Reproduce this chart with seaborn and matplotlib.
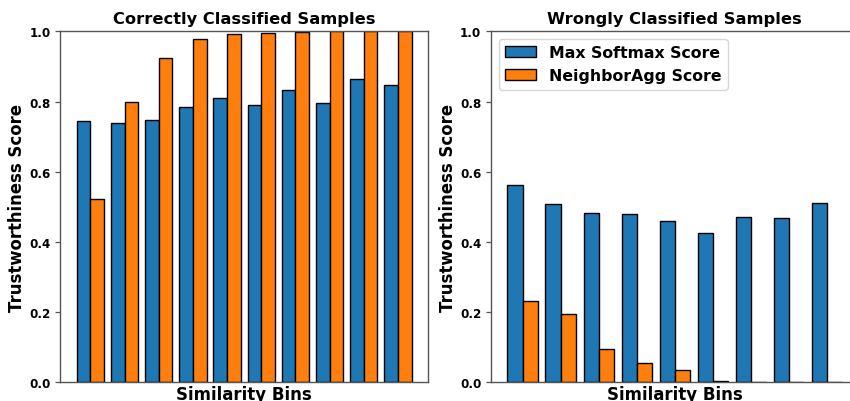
import numpy as np
import pandas as pd
import matplotlib
matplotlib.use("Agg")
import matplotlib.pyplot as plt
import seaborn as sns

# ---- data ----
series_names = ["Max Softmax Score", "NeighborAgg Score"]
correct_softmax = [0.744, 0.740, 0.746, 0.783, 0.810, 0.791, 0.834, 0.797, 0.865, 0.846]
correct_neighbor = [0.523, 0.799, 0.925, 0.979, 0.993, 0.995, 0.999, 1.000, 1.000, 1.000]
wrong_softmax = [0.563, 0.508, 0.482, 0.479, 0.460, 0.425, 0.472, 0.467, 0.512]
wrong_neighbor = [0.232, 0.194, 0.094, 0.054, 0.034, 0.004, 0.001, 0.0, 0.0]
titles = ["Correctly Classified Samples", "Wrongly Classified Samples"]
xlabel = "Similarity Bins"
ylabel = "Trustworthiness Score"
yticks = [0.0, 0.2, 0.4, 0.6, 0.8, 1.0]
colors = ["#1f77b4", "#ff7f0e"]


def long_df(a, b):
    n = len(a)
    return pd.DataFrame({
        "bin": list(range(n)) * 2,
        "score": list(a) + list(b),
        "series": [series_names[0]] * n + [series_names[1]] * n,
    })


plt.rcParams["font.family"] = ["DejaVu Sans"]
plt.rcParams["font.weight"] = "bold"

W, H = 850, 402
fig = plt.figure(figsize=(W / 100, H / 100), dpi=100)

ax_w = 368.3 / W
ax_h = 351.0 / H
ax_b = (H - 383.3) / H
ax1 = fig.add_axes([60.0 / W, ax_b, ax_w, ax_h])
ax2 = fig.add_axes([490.7 / W, ax_b, ax_w, ax_h])

datasets = [(correct_softmax, correct_neighbor), (wrong_softmax, wrong_neighbor)]
for ax, (a, b), title in zip([ax1, ax2], datasets, titles):
    df = long_df(a, b)
    sns.barplot(data=df, x="bin", y="score", hue="series", hue_order=series_names,
                palette=colors, saturation=1, width=0.8, edgecolor="black",
                linewidth=1.0, errorbar=None, ax=ax)
    n = len(a)
    span = (n - 1) + 0.8
    m = 0.05 * span
    ax.set_xlim(-0.4 - m, n - 1 + 0.4 + m)
    ax.set_ylim(0, 1.0)
    ax.set_xticks([])
    ax.set_yticks(yticks)
    ax.set_yticklabels([f"{t:.1f}" for t in yticks], fontsize=8.6, fontweight="bold")
    ax.tick_params(axis="y", length=3.5, width=0.9, color="#555555", pad=3.2)
    for s in ax.spines.values():
        s.set_color("#555555")
        s.set_linewidth(1.0)
    ax.set_title(title, fontsize=11.7, fontweight="bold")
    ax.set_xlabel(xlabel, fontsize=12.0, fontweight="bold", labelpad=2)
    ax.set_ylabel(ylabel, fontsize=11.9, fontweight="bold", labelpad=2.5)

ax1.get_legend().remove()
leg = ax2.get_legend()
handles, labels = ax2.get_legend_handles_labels()
leg.remove()
ax2.legend(handles, labels, loc="upper left",
           prop={"size": 11.3, "weight": "bold"})

fig.savefig("out.png", dpi=100)
